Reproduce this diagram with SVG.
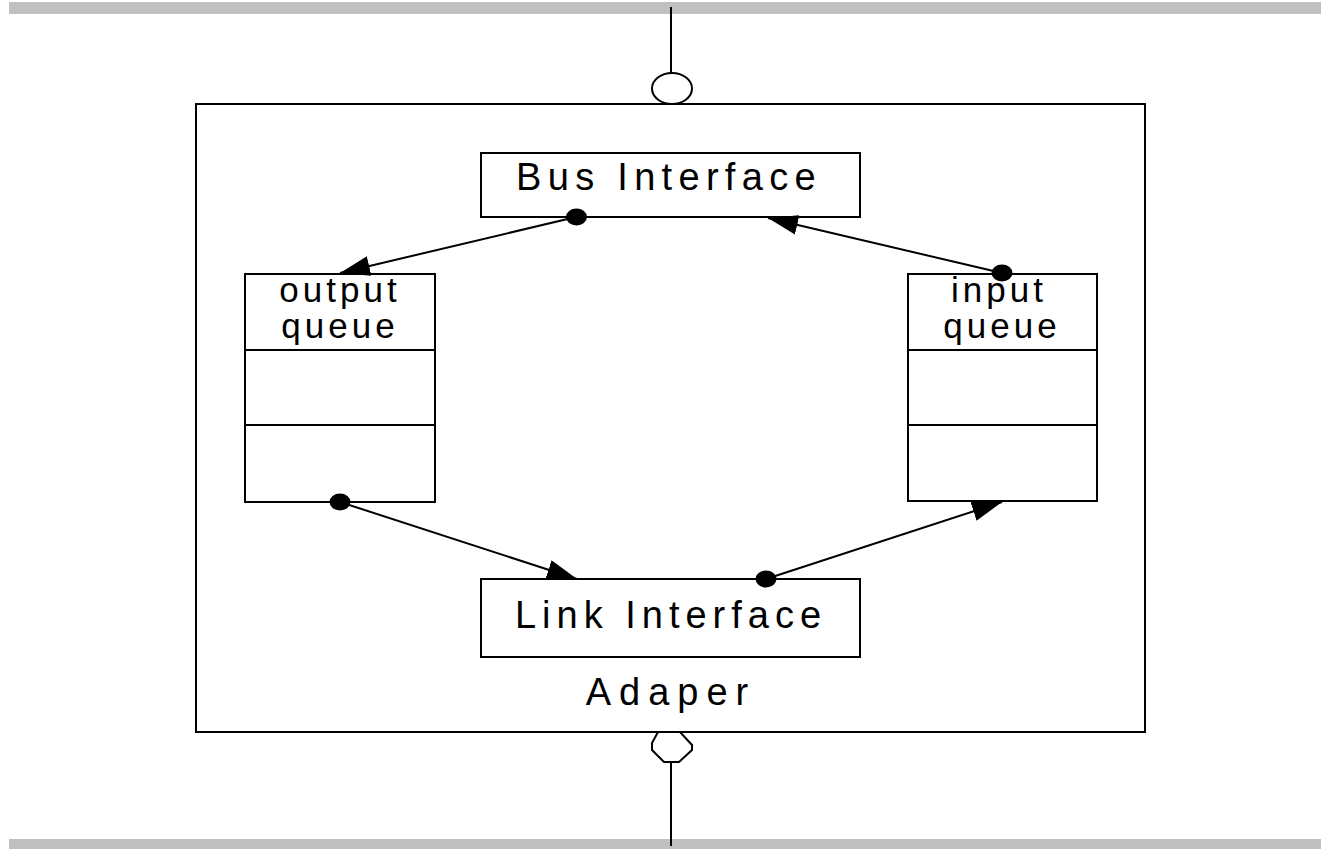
<svg xmlns="http://www.w3.org/2000/svg" width="1321" height="849" viewBox="0 0 1321 849">
<style>
.bar{fill:#c0c0c0}
.ln{stroke:#000;stroke-width:2;fill:none}
.box{stroke:#000;stroke-width:2;fill:#fff}
.big{font-family:"Liberation Sans",Arial,sans-serif;font-size:38px;fill:#000;text-anchor:middle}
.sm{font-family:"Liberation Sans",Arial,sans-serif;font-size:35px;fill:#000;text-anchor:middle;letter-spacing:4px}
.dot{fill:#000}
</style>
<defs>
<marker id="arr" viewBox="0 0 30 20" refX="30" refY="10" markerWidth="30" markerHeight="20" orient="auto" markerUnits="userSpaceOnUse">
<path d="M0,0 L30,10 L0,20 z" fill="#000"/>
</marker>
</defs>
<rect class="bar" x="9" y="2" width="1312" height="12"/>
<rect class="bar" x="9" y="839" width="1312" height="10"/>
<g id="adapter">
<rect class="box" x="196" y="104" width="949" height="628"/>
<text class="big" x="671" y="705" style="letter-spacing:8px">Adaper</text>
</g>
<g id="top-port">
<line class="ln" x1="671" y1="7" x2="671" y2="73"/>
<ellipse class="ln" cx="672" cy="88.5" rx="20" ry="15.5"/>
</g>
<g id="bottom-port">
<path class="ln" d="M658,732 L680,732 L692,745 L692,750 L679,762 L664,762 L652,750 L652,743 Z"/>
<line class="ln" x1="671" y1="762" x2="671" y2="846"/>
</g>
<g id="bus-interface">
<rect class="box" x="481" y="153" width="379" height="64"/>
<text class="big" x="669" y="190" style="letter-spacing:6.3px">Bus Interface</text>
</g>
<g id="link-interface">
<rect class="box" x="481" y="579" width="379" height="78"/>
<text class="big" x="671" y="628" style="letter-spacing:6px">Link Interface</text>
</g>
<g id="output-queue">
<rect class="box" x="245" y="274" width="190" height="228"/>
<line class="ln" x1="245" y1="350" x2="435" y2="350"/>
<line class="ln" x1="245" y1="425" x2="435" y2="425"/>
<text class="sm" x="340" y="302">output</text>
<text class="sm" x="340" y="338">queue</text>
</g>
<g id="input-queue">
<rect class="box" x="908" y="274" width="189" height="227"/>
<line class="ln" x1="908" y1="350" x2="1097" y2="350"/>
<line class="ln" x1="908" y1="425" x2="1097" y2="425"/>
<text class="sm" x="999" y="302">input</text>
<text class="sm" x="1002" y="338">queue</text>
</g>
<g id="connectors">
<line class="ln" x1="576" y1="217" x2="340" y2="273" marker-end="url(#arr)"/>
<line class="ln" x1="1002" y1="273" x2="768" y2="218" marker-end="url(#arr)"/>
<line class="ln" x1="340" y1="502" x2="577" y2="579" marker-end="url(#arr)"/>
<line class="ln" x1="766" y1="579" x2="1002" y2="502" marker-end="url(#arr)"/>
<ellipse class="dot" cx="576.5" cy="217" rx="10.5" ry="8.5"/>
<ellipse class="dot" cx="1002" cy="273" rx="10.5" ry="8.5"/>
<ellipse class="dot" cx="340" cy="502" rx="10.5" ry="8.5"/>
<ellipse class="dot" cx="766" cy="579" rx="10.5" ry="8.5"/>
</g>
</svg>
